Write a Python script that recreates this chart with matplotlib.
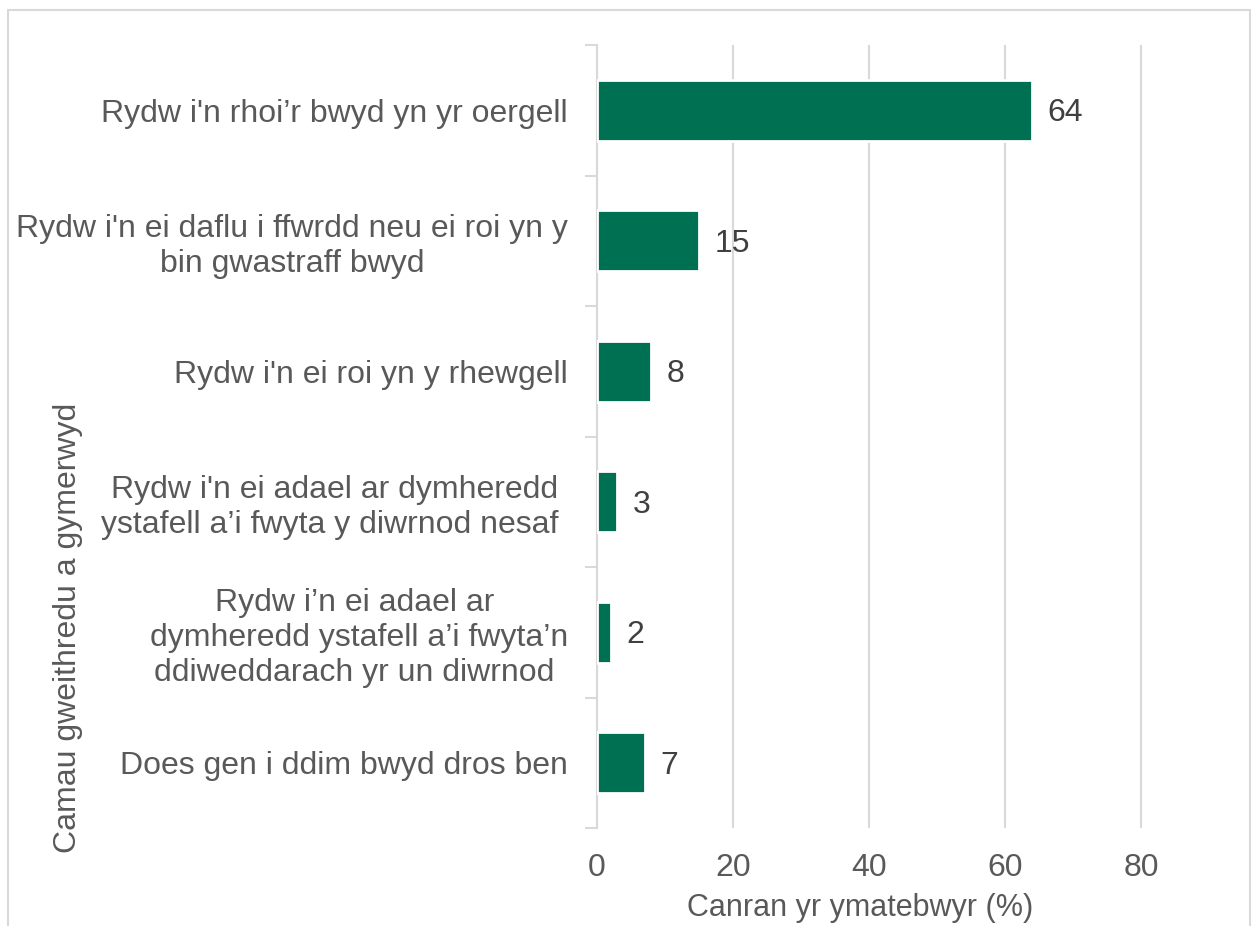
import numpy as np
import matplotlib.pyplot as plt
from matplotlib.patches import Rectangle

plt.rcParams['font.family'] = ['Liberation Sans', 'DejaVu Sans']

labels = [
    "Rydw i'n rhoi’r bwyd yn yr oergell",
    "Rydw i'n ei daflu i ffwrdd neu ei roi yn y\nbin gwastraff bwyd",
    "Rydw i'n ei roi yn y rhewgell",
    "Rydw i'n ei adael ar dymheredd\nystafell a’i fwyta y diwrnod nesaf ",
    "Rydw i’n ei adael ar \ndymheredd ystafell a’i fwyta’n\nddiweddarach yr un diwrnod ",
    "Does gen i ddim bwyd dros ben",
]
values = [64, 15, 8, 3, 2, 7]
xticks = [0, 20, 40, 60, 80]

green = '#007052'
grey_txt = '#595959'
dark_txt = '#404040'
line_col = '#d9d9d9'

fig = plt.figure(figsize=(12.51, 9.26), dpi=100)
ax = fig.add_axes([597 / 1251, 1 - 828 / 926, (1209 - 597) / 1251, (828 - 45) / 926])

y = np.arange(len(values))
ax.barh(y, values, height=0.47, color=green, edgecolor='white', linewidth=2, zorder=3)
for yi, v in zip(y, values):
    ax.annotate(str(v), (v, yi), xytext=(11, -2), textcoords='offset points',
                va='center', ha='left', fontsize=23, color=dark_txt)

ax.set_xlim(0, 90)
ax.set_ylim(len(values) - 0.5, -0.5)
ax.set_xticks(xticks)
ax.set_xticklabels([str(t) for t in xticks], fontsize=23, color=grey_txt)
ax.set_yticks(y)
ax.set_yticklabels(labels, fontsize=23, color=grey_txt, multialignment='center')
ax.set_yticks(np.arange(len(values) + 1) - 0.5, minor=True)
ax.tick_params(axis='y', which='major', length=0, pad=21)
ax.tick_params(axis='y', which='minor', length=9, width=1.5, color=line_col)
ax.tick_params(axis='x', length=0, pad=18)

ax.grid(axis='x', color=line_col, linewidth=1.5, zorder=0)
for s in ['top', 'right', 'bottom']:
    ax.spines[s].set_visible(False)
ax.spines['left'].set_color(line_col)
ax.spines['left'].set_linewidth(1.5)

ax.set_xlabel('Canran yr ymatebwyr (%)', fontsize=22, color=grey_txt)
ax.xaxis.set_label_coords((860 - 597) / 612, -(908 - 828) / 783)
ax.xaxis.label.set_va('center')
fig.text(68 / 1251, 1 - 628 / 926, 'Camau gweithredu a gymerwyd', rotation=90,
         fontsize=23, color=grey_txt, ha='center', va='center')

fig.patches.append(Rectangle((8 / 1251, -0.05), (1250 - 8) / 1251, 1.05 - 10 / 926,
                             transform=fig.transFigure, fill=False,
                             edgecolor=line_col, linewidth=1.5))

fig.savefig('out.png', dpi=100)
